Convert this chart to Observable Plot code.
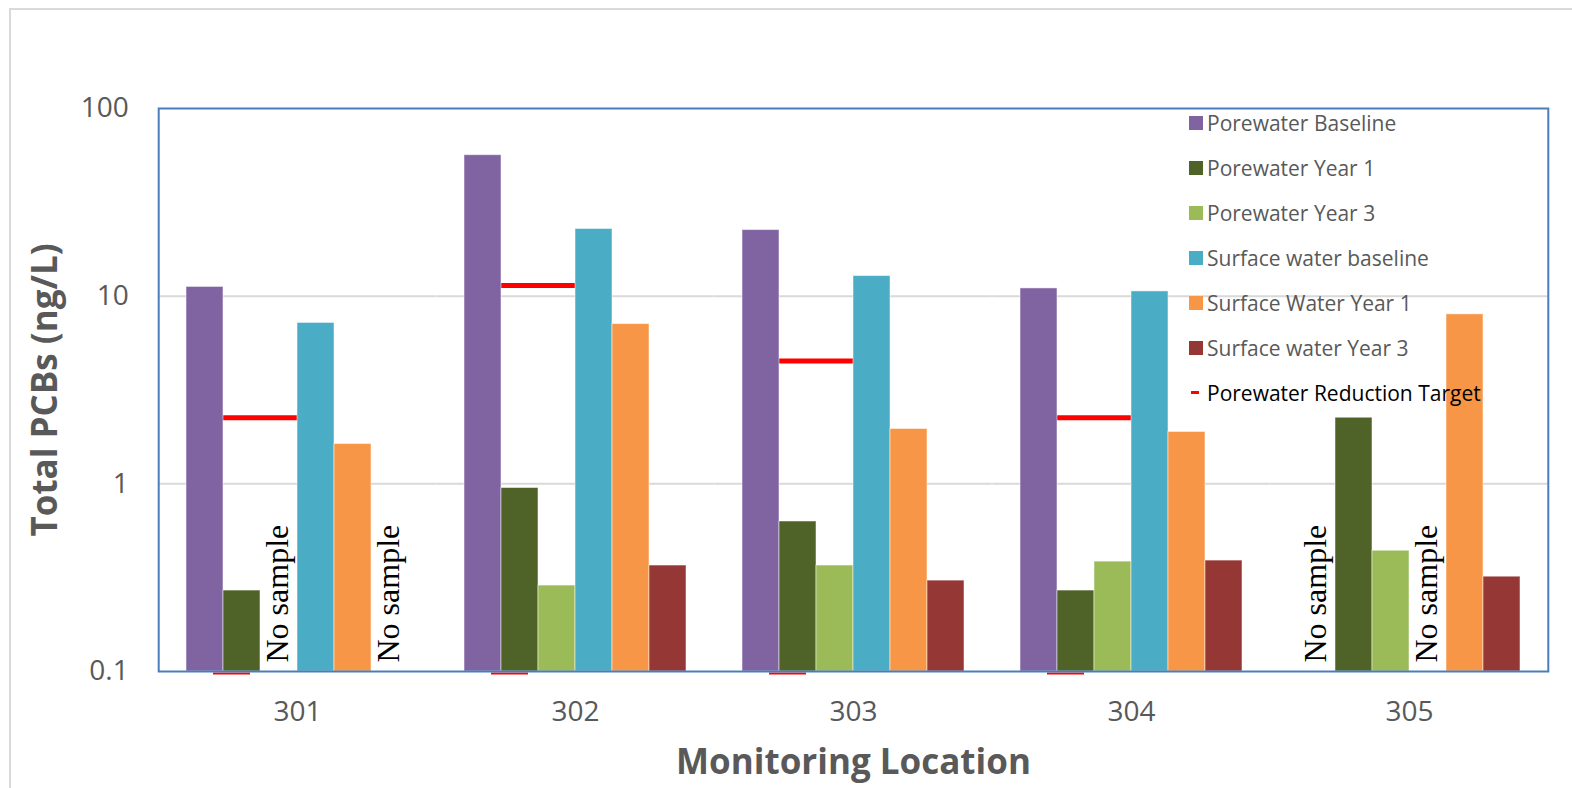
<!DOCTYPE html>
<html>
<head>
<meta charset="utf-8">
<script src="https://cdn.jsdelivr.net/npm/d3@7"></script>
<script src="https://cdn.jsdelivr.net/npm/@observablehq/plot@0.6"></script>
<style>
  html, body { margin: 0; padding: 0; background: #fff; overflow: hidden; }
  #wrap { position: relative; width: 1572px; height: 788px; }
  #border { position: absolute; left: 9px; top: 8px; width: 1620px; height: 820px; border: 2px solid #d9d9d9; box-sizing: border-box; }
  #chart { position: absolute; left: 0; top: 0; }
  #legend { position: absolute; left: 1189px; top: 100px; font-family: "Open Sans", sans-serif; font-size: 21px; color: #595959; }
  #legend .item { height: 45px; display: flex; align-items: center; white-space: nowrap; }
  #legend .sw { width: 14px; height: 14px; margin-right: 4px; flex: none; }
  #legend .dash { width: 8px; height: 3px; margin: 0 8px 0 2px; flex: none; }
</style>
</head>
<body>
<div id="wrap">
  <div id="border"></div>
  <div id="chart"></div>
  <div id="legend"></div>
</div>
<script>
// Monitoring locations and sampled series
const locations = ["301", "302", "303", "304", "305"];
const seriesNames = [
  "Porewater Baseline",
  "Porewater Year 1",
  "Porewater Year 3",
  "Surface water baseline",
  "Surface Water Year 1",
  "Surface water Year 3"
];
const seriesColors = ["#8064A2", "#4F6228", "#9BBB59", "#4BACC6", "#F79646", "#953735"];
const targetName = "Porewater Reduction Target";
const targetColor = "#FF0000";

// Total PCBs (ng/L) per location; null = no sample
const porewaterBaseline = [11.2, 56.4, 22.5, 11.0, null];
const porewaterYear1    = [0.27, 0.95, 0.63, 0.27, 2.25];
const porewaterYear3    = [null, 0.287, 0.367, 0.385, 0.44];
const surfaceBaseline   = [7.2, 22.8, 12.8, 10.6, null];
const surfaceYear1      = [1.63, 7.1, 1.96, 1.89, 8.0];
const surfaceYear3      = [null, 0.367, 0.305, 0.39, 0.32];
const reductionTarget   = [2.25, 11.4, 4.52, 2.25, null];

const yTicks = [0.1, 1, 10, 100];
const yTickLabels = ["0.1", "1", "10", "100"];

// Long-format rows for the grouped bars
const seriesValues = [porewaterBaseline, porewaterYear1, porewaterYear3, surfaceBaseline, surfaceYear1, surfaceYear3];
const rows = [];
seriesNames.forEach((s, j) => {
  locations.forEach((loc, i) => rows.push({location: loc, series: s, value: seriesValues[j][i]}));
});
const sampled = rows.filter(d => d.value != null);
const missing = rows.filter(d => d.value == null);
const targets = locations
  .map((loc, i) => ({location: loc, value: reductionTarget[i]}))
  .filter(d => d.value != null);
const tickRows = yTicks.map((v, i) => ({value: v, label: yTickLabels[i]}));
const gridRows = locations.flatMap(loc => yTicks.slice(1, 3).map(v => ({location: loc, value: v})));

// half of the gap between location groups (outer padding of the fx scale)
const groupGap = 27.8;

const chart = Plot.plot({
  width: 1572,
  height: 788,
  marginLeft: 158,
  marginRight: 24,
  marginTop: 108,
  marginBottom: 117,
  style: {fontFamily: "'Open Sans', sans-serif", fontSize: "28px", color: "#595959", background: "transparent"},
  fx: {domain: locations, paddingInner: 0.2, paddingOuter: 0.1, axis: "bottom", tickSize: 0, tickPadding: 30, label: null},
  x: {domain: seriesNames, padding: 0, axis: null},
  y: {type: "log", domain: [0.1, 100], axis: null},
  color: {domain: seriesNames, range: seriesColors},
  marks: [
    // horizontal gridlines, stretched over the gaps between groups
    Plot.ruleY(gridRows, {fx: "location", y: "value", insetLeft: -groupGap, insetRight: -groupGap, stroke: "#d9d9d9", strokeWidth: 2}),
    // y tick labels, left of the first group
    Plot.text(tickRows, {fx: () => locations[0], y: "value", text: "label", frameAnchor: "left", dx: -(groupGap + 30), textAnchor: "end", fill: "#595959", fontSize: 28}),
    // porewater reduction target spanning the Year 1 and Year 3 porewater slots
    Plot.ruleY(targets, {fx: "location", x1: () => seriesNames[1], x2: () => seriesNames[2], y: "value", stroke: targetColor, strokeWidth: 5}),
    Plot.ruleY(targets, {fx: "location", x1: () => seriesNames[0], x2: () => seriesNames[0], y: () => yTicks[0], dx: 27, dy: 2, stroke: targetColor, strokeWidth: 2}),
    Plot.barY(sampled, {fx: "location", x: "series", y1: yTicks[0], y2: "value", fill: "series", stroke: "#ffffff", strokeOpacity: 0.5, strokeWidth: 1}),
    Plot.text(missing, {
      fx: "location", x: "series", frameAnchor: "bottom", text: () => "No sample",
      rotate: -90, textAnchor: "start", dx: 9, dy: -9,
      fontFamily: "'Liberation Serif', serif", fontSize: 32, fill: "#000"
    }),
    Plot.frame({facet: "super", insetLeft: -groupGap, insetRight: -groupGap, stroke: "#4A7EBB", strokeWidth: 2}),
    Plot.text(["Monitoring Location"], {facet: "super", frameAnchor: "bottom", dy: 102, fontSize: 35, fontWeight: "bold", fill: "#595959"}),
    Plot.text(["Total PCBs (ng/L)"], {facet: "super", frameAnchor: "left", textAnchor: "middle", dx: -(groupGap + 113), rotate: -90, fontSize: 35, fontWeight: "bold", fill: "#595959"})
  ]
});
document.getElementById("chart").appendChild(chart);

// Legend
const legend = document.getElementById("legend");
seriesNames.forEach((s, j) => {
  const item = document.createElement("div");
  item.className = "item";
  item.innerHTML = `<span class="sw" style="background:${seriesColors[j]}"></span><span>${s}</span>`;
  legend.appendChild(item);
});
const tItem = document.createElement("div");
tItem.className = "item";
tItem.style.color = "#000";
tItem.innerHTML = `<span class="dash" style="background:${targetColor}"></span><span>${targetName}</span>`;
legend.appendChild(tItem);
</script>
</body>
</html>
